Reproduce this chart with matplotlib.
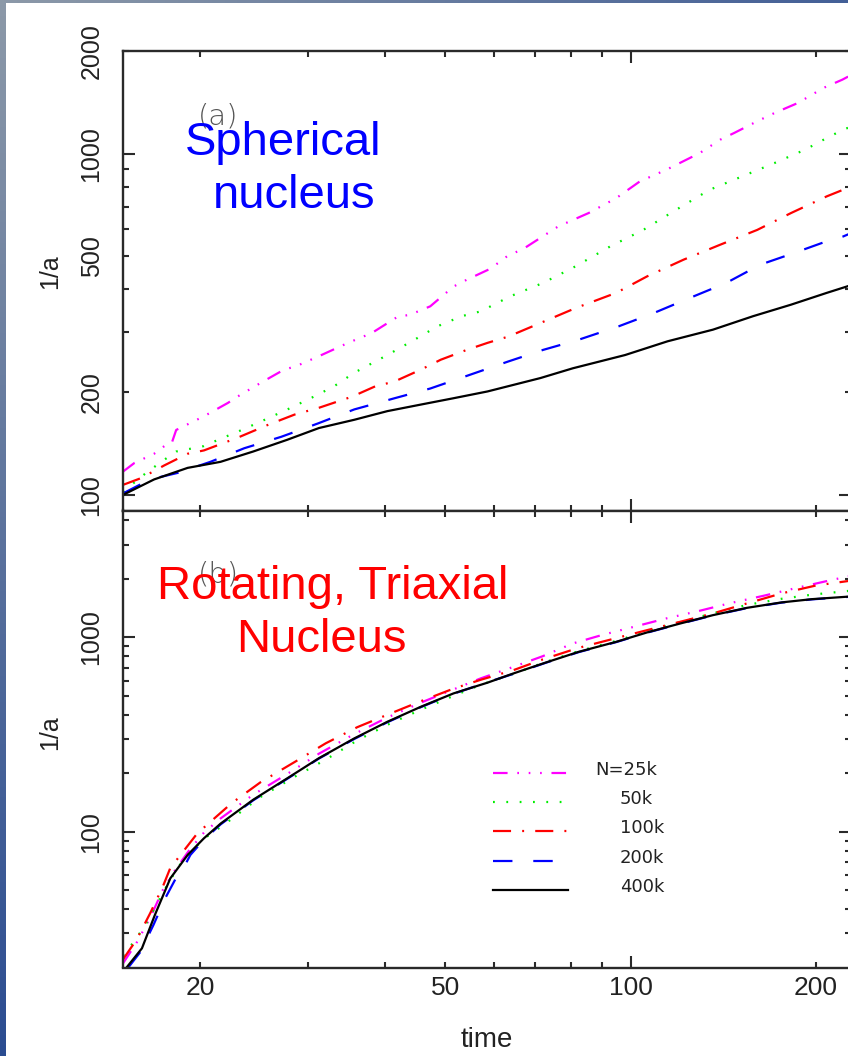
import numpy as np
import matplotlib
matplotlib.use('Agg')
import matplotlib.pyplot as plt
from matplotlib.ticker import FixedLocator, FuncFormatter, NullFormatter
from matplotlib.patches import Rectangle
from matplotlib.lines import Line2D

# ---------------- data: panel (a) spherical nucleus ----------------
a_t_25k = [15.0, 15.65, 16.85, 17.6, 18.0, 18.3, 20.3, 22.2, 23.0, 25.1, 27.4, 28.6, 31.2, 34.8, 38.0,
           41.9, 43.8, 47.3, 51.6, 54.2, 59.2, 63.0, 67.3, 76.3, 85.5, 94.8, 103.5, 114.4, 129.6, 139.8,
           147.3, 160.6, 171.3, 186.9, 205.7, 220.7, 228.0]
a_v_25k = [117, 124, 132, 140, 142, 155, 170, 186, 194, 213, 233, 238, 255, 279, 298,
           333, 337, 357, 408, 427, 460, 500, 529, 612, 670, 741, 829, 898, 1005, 1099,
           1150, 1245, 1316, 1408, 1559, 1648, 1700]
a_t_50k = [15.0, 16.05, 17.2, 18.3, 20.3, 21.4, 23.0, 25.1, 28.1, 30.6, 33.0, 35.6, 40.3, 44.6, 48.6,
           53.2, 57.1, 63.8, 72.1, 81.5, 92.7, 104.9, 118.6, 134.4, 151.8, 171.3, 191.9, 208.3, 221.4, 228.0]
a_v_50k = [102, 113, 124, 134, 139, 145, 153, 164, 180, 194, 208, 228, 257, 285, 312,
           334, 345, 382, 418, 468, 535, 598, 685, 784, 858, 939, 1027, 1112, 1176, 1200]
a_t_100k = [15.0, 16.05, 17.5, 19.1, 20.3, 23.0, 25.7, 28.5, 31.2, 35.3, 38.5, 41.4, 45.7, 49.2, 54.2,
            58.6, 63.3, 71.4, 81.5, 94.8, 106.4, 121.9, 139.8, 160.6, 182.2, 208.3, 221.4, 228.0]
a_v_100k = [107, 112, 122, 132, 135, 147, 160, 172, 180, 194, 208, 215, 233, 249, 266,
            279, 291, 319, 353, 391, 437, 489, 541, 598, 670, 750, 784, 800]
a_t_200k = [15.0, 16.6, 18.4, 20.8, 23.6, 27.1, 31.1, 35.6, 41.4, 47.3, 54.9, 63.3, 72.1, 82.4, 95.7,
            109.0, 124.9, 143.0, 162.5, 183.9, 208.3, 221.4, 228.0]
a_v_200k = [101, 111, 116, 125, 137, 148, 162, 178, 192, 205, 225, 246, 266, 285, 312,
            341, 378, 418, 473, 511, 554, 572, 585]
a_t_400k = [15.0, 16.85, 19.1, 21.6, 24.4, 27.7, 31.2, 35.6, 40.3, 45.7, 51.6, 58.6, 71.4, 80.6, 98.0,
            114.9, 136.1, 158.1, 182.2, 208.3, 224.4, 228.0]
a_v_400k = [100, 111, 120, 125, 134, 145, 157, 166, 176, 184, 192, 201, 220, 235, 257,
            282, 305, 334, 361, 391, 408, 412]

# ---------------- data: panel (b) rotating triaxial nucleus ----------------
b_t_25k = [15.0, 15.8, 16.6, 17.4, 18.2, 19.2, 20.3, 21.6, 24.4, 27.7, 31.2, 35.6, 40.3, 45.7, 51.6,
           57.1, 64.6, 72.0, 80.6, 90.0, 101.3, 114.0, 128.9, 145.0, 164.3, 185.0, 211.4, 228.0]
b_v_25k = [21, 27, 36, 50, 63, 80, 99, 117, 155, 198, 252, 318, 387, 462, 540,
           615, 706, 800, 931, 1030, 1134, 1250, 1366, 1500, 1637, 1790, 1971, 2075]
b_t_50k = [15.0, 15.6, 16.3, 17.0, 17.8, 18.8, 20.3, 22.0, 25.0, 28.6, 32.0, 36.0, 40.3, 45.7, 51.6,
           57.1, 64.6, 73.0, 82.4, 94.8, 106.4, 120.5, 136.1, 154.6, 175.8, 197.2, 228.0]
b_v_50k = [23, 27, 33, 42, 55, 72, 92, 110, 150, 193, 235, 295, 355, 425, 500,
           570, 650, 750, 850, 960, 1075, 1200, 1330, 1470, 1580, 1660, 1740]
b_t_100k = [15.0, 15.8, 16.6, 17.4, 17.9, 19.8, 22.5, 25.1, 28.6, 32.0, 36.0, 40.3, 45.7, 51.6, 57.1,
            64.6, 72.0, 82.4, 94.0, 106.4, 120.0, 136.1, 155.0, 175.8, 200.0, 228.0]
b_v_100k = [22, 28, 38, 52, 65, 98, 140, 180, 230, 285, 345, 400, 470, 545, 605,
            679, 770, 884, 985, 1090, 1200, 1329, 1500, 1684, 1850, 1960]
b_t_200k = [15.3, 16.0, 16.8, 17.6, 18.3, 18.7, 19.3, 20.3, 21.6, 24.4, 27.7, 31.2, 35.6, 40.3, 45.7,
            51.6, 58.6, 64.6, 73.0, 82.4, 94.8, 106.4, 120.5, 136.1, 154.6, 175.8, 197.2, 228.0]
b_v_200k = [20, 24, 33, 46, 58, 63, 76, 91, 109, 145, 187, 238, 300, 366, 438,
            513, 588, 650, 742, 840, 946, 1058, 1176, 1298, 1416, 1510, 1570, 1620]
b_t_400k = [15.2, 16.1, 16.9, 17.9, 19.1, 20.3, 21.6, 24.4, 27.7, 31.2, 35.6, 40.3, 45.7, 51.6, 58.6,
            64.6, 73.0, 82.4, 94.8, 106.4, 120.5, 136.1, 154.6, 175.8, 197.2, 228.0]
b_v_400k = [20, 25.1, 37.3, 57.5, 75.9, 92.5, 110, 146, 188, 239, 302, 368, 440, 515, 585,
            653, 744, 843, 949, 1061, 1180, 1302, 1420, 1514, 1574, 1625]

legend_labels = ["N=25k", "50k", "100k", "200k", "400k"]
x_tick_labels = ["20", "50", "100", "200"]
top_y_tick_labels = ["100", "200", "500", "1000", "2000"]
bot_y_tick_labels = ["100", "1000"]

# ---------------- styles ----------------
plt.rcParams['lines.scale_dashes'] = False
styles = [
    dict(color='#ff00ff', dashes=[10.5, 7, 1.2, 7, 1.2, 7, 1.2, 7]),
    dict(color='#00ee00', dashes=[1.3, 8.3]),
    dict(color='#ff0000', dashes=[13, 8, 1.4, 8]),
    dict(color='#0000ff', dashes=[14, 15]),
    dict(color='#000000', linestyle='-'),
]
LW = 1.6

W, H = 848, 1056
fig = plt.figure(figsize=(W / 100, H / 100), dpi=100)

# slide background strip
bg = fig.add_axes([0, 0, 1, 1], zorder=-10)
yy, xx = np.mgrid[0:1:200j, 0:1:200j]
s = np.clip(np.maximum(yy, 0.75 * xx), 0, 1)
c0 = np.array([0.55, 0.60, 0.66])
c1 = np.array([0.17, 0.30, 0.57])
img = c0[None, None, :] * (1 - s[..., None]) + c1[None, None, :] * s[..., None]
bg.imshow(img, extent=[0, 1, 0, 1], aspect='auto', origin='upper')
bg.add_patch(Rectangle((6 / W, 0), 1, 1 - 2.5 / H, color='white', lw=0))
bg.set_xlim(0, 1)
bg.set_ylim(0, 1)
bg.axis('off')

L = 123 / W
R = 851 / W
ax1 = fig.add_axes([L, 1 - 510.5 / H, R - L, (510.5 - 51) / H])
ax2 = fig.add_axes([L, 1 - 967.5 / H, R - L, (967.5 - 510.5) / H])

spine_c = '#2a2a2a'
x_major = [100]
x_minor = [20, 30, 40, 50, 60, 70, 80, 90, 200]


def xfmt(v, pos):
    for lab in x_tick_labels:
        if abs(v - float(lab)) < 1e-6:
            return lab
    return ''


def make_yfmt(labels):
    def f(v, pos):
        for lab in labels:
            if abs(v - float(lab)) < 1e-6:
                return lab
        return ''
    return f


def style(ax, ylim, y_major, y_minor, ylabels, show_x):
    ax.set_xscale('log')
    ax.set_yscale('log')
    ax.set_xlim(15, 228)
    ax.set_ylim(*ylim)
    for sp in ax.spines.values():
        sp.set_color(spine_c)
        sp.set_linewidth(1.7)
    ax.xaxis.set_major_locator(FixedLocator(x_major))
    ax.xaxis.set_minor_locator(FixedLocator(x_minor))
    ax.yaxis.set_major_locator(FixedLocator(y_major))
    ax.yaxis.set_minor_locator(FixedLocator(y_minor))
    if show_x:
        ax.xaxis.set_major_formatter(FuncFormatter(xfmt))
        ax.xaxis.set_minor_formatter(FuncFormatter(xfmt))
    else:
        ax.xaxis.set_major_formatter(NullFormatter())
        ax.xaxis.set_minor_formatter(NullFormatter())
    ax.yaxis.set_major_formatter(FuncFormatter(make_yfmt(ylabels)))
    ax.yaxis.set_minor_formatter(FuncFormatter(make_yfmt(ylabels)))
    ax.tick_params(which='both', direction='in', top=True, right=True,
                   color=spine_c, width=1.5, labelcolor='#222222')
    ax.tick_params(which='major', length=8.8)
    ax.tick_params(which='minor', length=4.4)
    ax.tick_params(axis='x', which='both', labelsize=19, pad=6)
    ax.tick_params(axis='y', which='both', labelsize=18, pad=14, labelrotation=90)
    for lab in ax.yaxis.get_majorticklabels() + ax.yaxis.get_minorticklabels():
        lab.set_va('center')
        lab.set_family('Liberation Sans')
    for lab in ax.xaxis.get_majorticklabels() + ax.xaxis.get_minorticklabels():
        lab.set_family('Liberation Sans')


# panel (a)
for (t, v), st in zip([(a_t_25k, a_v_25k), (a_t_50k, a_v_50k), (a_t_100k, a_v_100k),
                       (a_t_200k, a_v_200k), (a_t_400k, a_v_400k)], styles):
    ax1.plot(t, v, lw=LW, **st)
style(ax1, (90, 2000), [100, 1000],
      [200, 300, 400, 500, 600, 700, 800, 900, 2000], top_y_tick_labels, False)

# panel (b)
for (t, v), st in zip([(b_t_25k, b_v_25k), (b_t_50k, b_v_50k), (b_t_100k, b_v_100k),
                       (b_t_200k, b_v_200k), (b_t_400k, b_v_400k)], styles):
    ax2.plot(t, v, lw=LW, **st)
style(ax2, (20, 4500), [100, 1000],
      [30, 40, 50, 60, 70, 80, 90, 200, 300, 400, 500, 600, 700, 800, 900, 2000, 3000, 4000],
      bot_y_tick_labels, True)

# legend (drawn manually, as in original)
ax_w = (851 - 123)
ax_h = (967.5 - 510.5)
leg_x0 = (493 - 123) / ax_w
leg_x1 = (568 - 123) / ax_w
leg_ys = [(967.5 - y) / ax_h for y in [772.7, 801.7, 830.7, 860.7, 890.0]]
for lab, st, ly in zip(legend_labels, styles, leg_ys):
    ax2.add_line(Line2D([leg_x0, leg_x1], [ly, ly], transform=ax2.transAxes, lw=LW, **st))
    if lab.startswith('N='):
        ax2.text((657 - 123) / ax_w, ly + 2.5 / ax_h, lab, transform=ax2.transAxes, ha='right',
                 va='center', fontsize=13, color='#222222', family='DejaVu Sans')
    else:
        ax2.text((620 - 123) / ax_w, ly + 2.5 / ax_h, lab, transform=ax2.transAxes, ha='left',
                 va='center', fontsize=13, color='#222222', family='DejaVu Sans')

# axis labels
fig.text(50 / W, 1 - 272 / H, '1/a', rotation=90, ha='center', va='center',
         fontsize=18, color='#222222', family='Liberation Sans')
fig.text(50 / W, 1 - 733 / H, '1/a', rotation=90, ha='center', va='center',
         fontsize=18, color='#222222', family='Liberation Sans')
fig.text(487 / W, 1 - 1040 / H, 'time', ha='center', va='center',
         fontsize=20, color='#222222', family='Liberation Sans')

# panel tags
fig.text(218 / W, 1 - 117 / H, '(a)', ha='center', va='center', fontsize=21,
         color='#555555', family='DejaVu Sans', fontweight='light')
fig.text(218 / W, 1 - 575 / H, '(b)', ha='center', va='center', fontsize=21,
         color='#555555', family='DejaVu Sans', fontweight='light')

# big annotations
fig.text(283.5 / W, 1 - 155 / H, 'Spherical', ha='center', va='baseline', fontsize=34,
         color='#0000ff', family='Liberation Sans')
fig.text(294 / W, 1 - 208 / H, 'nucleus', ha='center', va='baseline', fontsize=34,
         color='#0000ff', family='Liberation Sans')
fig.text(333 / W, 1 - 599 / H, 'Rotating, Triaxial', ha='center', va='baseline', fontsize=34,
         color='#ff0000', family='Liberation Sans')
fig.text(321.7 / W, 1 - 651.7 / H, 'Nucleus', ha='center', va='baseline', fontsize=34,
         color='#ff0000', family='Liberation Sans')

fig.savefig('out.png', dpi=100)
